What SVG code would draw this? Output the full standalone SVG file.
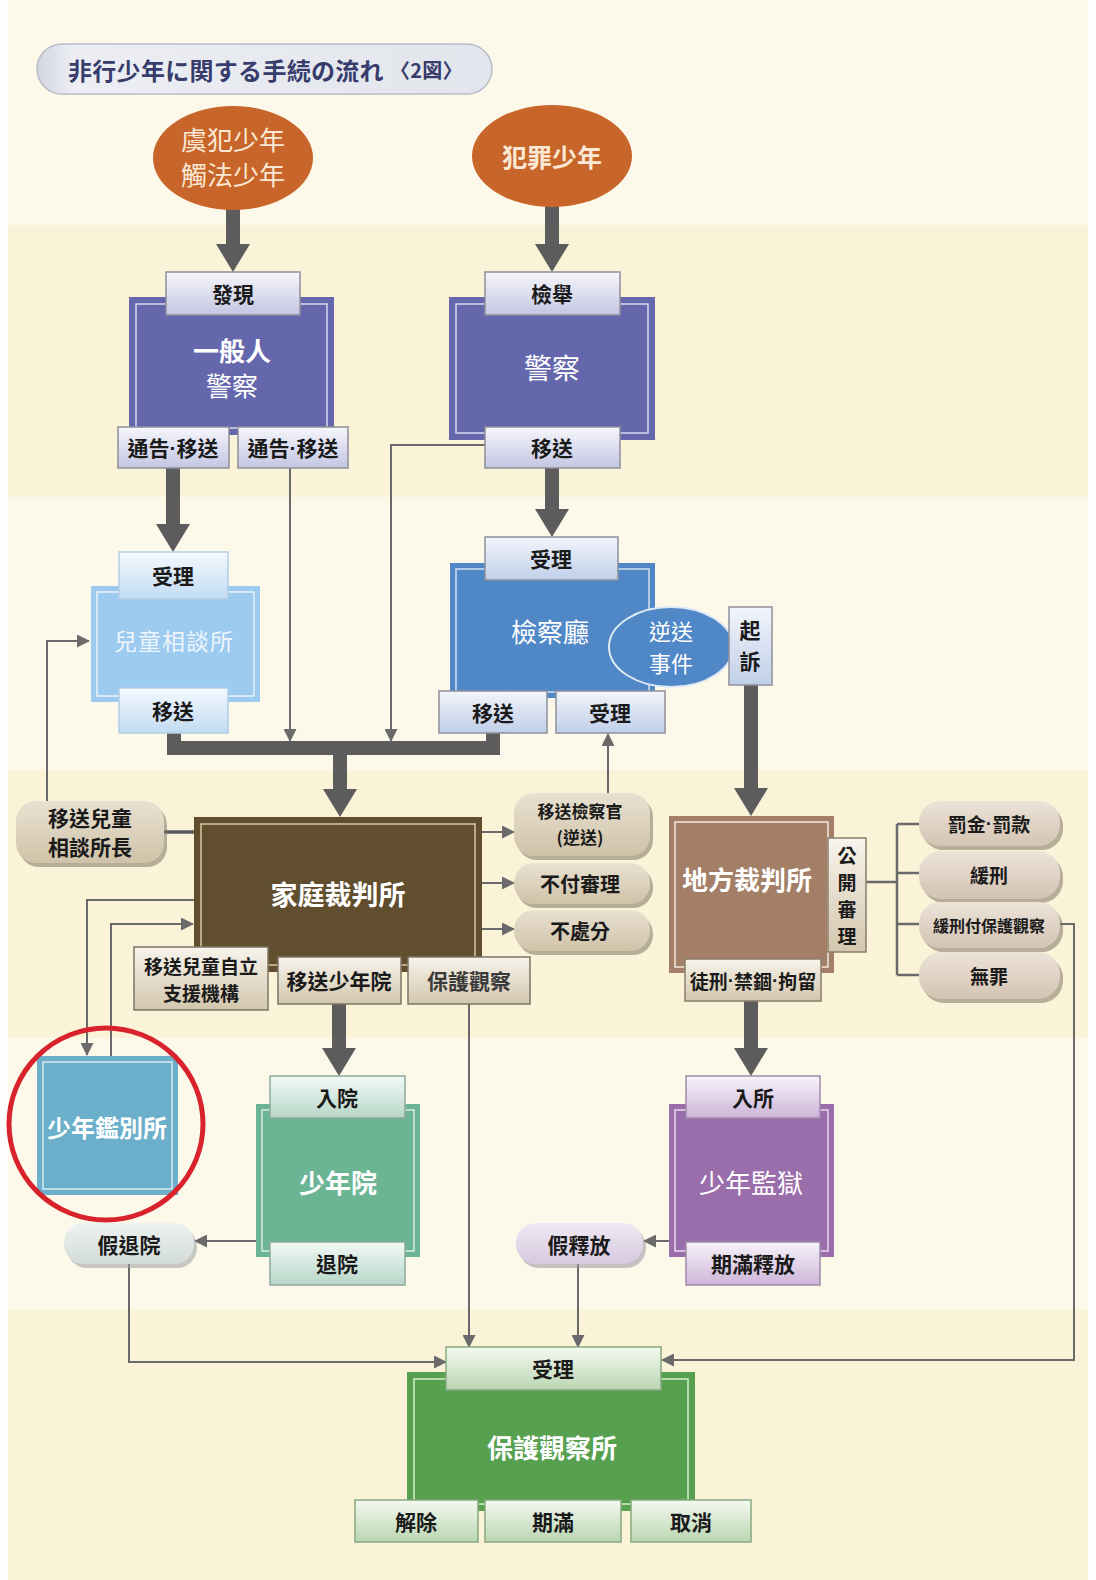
<svg xmlns="http://www.w3.org/2000/svg" width="1096" height="1580" viewBox="0 0 1096 1580">
<defs>
<style>
text{font-family:"Noto Sans CJK TC","Noto Sans CJK JP",sans-serif;text-anchor:middle;dominant-baseline:central}
.dot{font-family:"Liberation Sans",sans-serif}
.tab{stroke:#8f8f9a;stroke-width:1.5}
.tt{font-size:21px;font-weight:700;fill:#1a1a1a}
.bt{font-size:26px;font-weight:700;fill:#ffffff}
.bl{font-size:26px;font-weight:400;fill:#ffffff}
.inner{fill:none;stroke:#ffffff;stroke-opacity:.75;stroke-width:1.5}
.thick{fill:none;stroke:#5c5c5c;stroke-width:14}
.thin{fill:none;stroke:#6a6a6a;stroke-width:2}
.shadow{fill:#7d7466;opacity:.55}
</style>
<linearGradient id="gLav" x1="0" y1="0" x2="0" y2="1"><stop offset="0" stop-color="#f6f6fb"/><stop offset="1" stop-color="#c4c6e3"/></linearGradient>
<linearGradient id="gSky" x1="0" y1="0" x2="0" y2="1"><stop offset="0" stop-color="#f4f9fe"/><stop offset="1" stop-color="#c2dcf2"/></linearGradient>
<linearGradient id="gBlu" x1="0" y1="0" x2="0" y2="1"><stop offset="0" stop-color="#f2f5fb"/><stop offset="1" stop-color="#c0cfe9"/></linearGradient>
<linearGradient id="gTan" x1="0" y1="0" x2="0" y2="1"><stop offset="0" stop-color="#f8f4ec"/><stop offset="1" stop-color="#d2c6ad"/></linearGradient>
<linearGradient id="gTeal" x1="0" y1="0" x2="0" y2="1"><stop offset="0" stop-color="#f3f9f6"/><stop offset="1" stop-color="#b7d6c8"/></linearGradient>
<linearGradient id="gPur" x1="0" y1="0" x2="0" y2="1"><stop offset="0" stop-color="#f8f3fa"/><stop offset="1" stop-color="#cdb5d8"/></linearGradient>
<linearGradient id="gGrn" x1="0" y1="0" x2="0" y2="1"><stop offset="0" stop-color="#f4f9f1"/><stop offset="1" stop-color="#bad6b1"/></linearGradient>
<linearGradient id="gPill" x1="0" y1="0" x2="0" y2="1"><stop offset="0" stop-color="#e9e1d1"/><stop offset="1" stop-color="#cfc2a8"/></linearGradient>
<linearGradient id="gPink" x1="0" y1="0" x2="0" y2="1"><stop offset="0" stop-color="#ede3d9"/><stop offset="1" stop-color="#d3c3b2"/></linearGradient>
<linearGradient id="gMint" x1="0" y1="0" x2="0" y2="1"><stop offset="0" stop-color="#eef2f0"/><stop offset="1" stop-color="#d2dcd8"/></linearGradient>
<linearGradient id="gLil" x1="0" y1="0" x2="0" y2="1"><stop offset="0" stop-color="#efe9f3"/><stop offset="1" stop-color="#d6c9df"/></linearGradient>
<linearGradient id="gTitle" x1="0" y1="0" x2="1" y2="0"><stop offset="0" stop-color="#d4d6e0"/><stop offset=".08" stop-color="#eceef4"/><stop offset="1" stop-color="#e3e5ec"/></linearGradient>
<marker id="hThick" markerUnits="userSpaceOnUse" viewBox="0 0 28 34" markerWidth="28" markerHeight="34" refX="1" refY="17" orient="auto"><path d="M0,0 L28,17 L0,34 z" fill="#5c5c5c"/></marker>
<marker id="hThin" markerUnits="userSpaceOnUse" viewBox="0 0 13 13" markerWidth="13" markerHeight="13" refX="12" refY="6.5" orient="auto"><path d="M0,0 L13,6.5 L0,13 z" fill="#6a6a6a"/></marker>
</defs>

<!-- background bands -->
<rect x="0" y="0" width="1096" height="1580" fill="#fdf9ea"/>
<rect x="0" y="225" width="1096" height="272" fill="#fbf3d8"/>
<rect x="0" y="770" width="1096" height="268" fill="#fbf3d8"/>
<rect x="0" y="1310" width="1096" height="270" fill="#fbf3d8"/>
<rect x="0" y="0" width="8" height="1580" fill="#fefefe"/>
<rect x="1088" y="0" width="8" height="1580" fill="#fefefe"/>

<!-- title -->
<g id="title">
<rect x="37" y="44" width="455" height="50" rx="25" fill="url(#gTitle)" stroke="#b9bbc7" stroke-width="1.5"/>
<text x="68" y="69" style="text-anchor:start;font-size:24px;font-weight:700;fill:#363c6c;letter-spacing:0.3px">非行少年に関する手続の流れ<tspan font-size="20" dx="6">〈2図〉</tspan></text>
</g>

<!-- connectors -->
<g id="connectors">
<path class="thick" d="M233,208 V245" marker-end="url(#hThick)"/>
<path class="thick" d="M552,206 V245" marker-end="url(#hThick)"/>
<path class="thick" d="M173,468 V525" marker-end="url(#hThick)"/>
<path class="thick" d="M552,468 V510" marker-end="url(#hThick)"/>
<path class="thick" d="M174,733 V748 H493 V733"/>
<path class="thick" d="M340,748 V790" marker-end="url(#hThick)"/>
<path class="thick" d="M751,685 V789" marker-end="url(#hThick)"/>
<path class="thick" d="M339,1004 V1049" marker-end="url(#hThick)"/>
<path class="thick" d="M751,1001 V1049" marker-end="url(#hThick)"/>

<path class="thin" d="M290,468 V741" marker-end="url(#hThin)"/>
<path class="thin" d="M485,445 H391 V741" marker-end="url(#hThin)"/>
<path class="thin" d="M47,801 V641 H89" marker-end="url(#hThin)"/>
<path d="M164,832 H194" stroke="#5c5c5c" stroke-width="3.5" fill="none"/>
<path class="thin" d="M482,832 H514" marker-end="url(#hThin)"/>
<path class="thin" d="M482,883 H514" marker-end="url(#hThin)"/>
<path class="thin" d="M482,929 H514" marker-end="url(#hThin)"/>
<path class="thin" d="M608,793 V734" marker-end="url(#hThin)"/>
<path class="thin" d="M194,900 H87 V1055" marker-end="url(#hThin)"/>
<path class="thin" d="M111,1056 V924 H193" marker-end="url(#hThin)"/>
<path class="thin" d="M256,1241 H195" marker-end="url(#hThin)"/>
<path class="thin" d="M129,1264 V1362 H446" marker-end="url(#hThin)"/>
<path class="thin" d="M469,1004 V1347" marker-end="url(#hThin)"/>
<path class="thin" d="M669,1241 H644" marker-end="url(#hThin)"/>
<path class="thin" d="M578,1264 V1347" marker-end="url(#hThin)"/>
<path class="thin" d="M1060,924 H1074 V1360 H662" marker-end="url(#hThin)"/>
<path d="M866,882 H897 M897,824 V975 M897,824 H919 M897,873 H919 M897,924 H919 M897,975 H919" stroke="#6a6a6a" stroke-width="2.5" fill="none"/>
</g>

<!-- source ovals -->
<g id="n-guhan">
<ellipse cx="233" cy="158" rx="80" ry="52" fill="#c8652a"/>
<text x="233" y="138" style="font-size:26px;fill:#fbe8d4">虞犯少年</text>
<text x="233" y="173" style="font-size:26px;fill:#fbe8d4">觸法少年</text>
</g>
<g id="n-hanzai">
<ellipse cx="552" cy="156" rx="80" ry="51" fill="#c8652a"/>
<text x="552" y="156" style="font-size:25px;font-weight:700;fill:#fbe8d4">犯罪少年</text>
</g>

<!-- 一般人 警察 -->
<g id="n-ippan">
<rect x="129" y="297" width="205" height="138" fill="#6567ad"/>
<rect x="136" y="304" width="191" height="124" class="inner"/>
<text x="232" y="349" class="bt">一般人</text>
<text x="232" y="384" class="bl">警察</text>
<rect x="166" y="272" width="134" height="43" fill="url(#gLav)" class="tab"/>
<text x="233" y="293" class="tt">發現</text>
<rect x="118" y="427" width="111" height="41" fill="url(#gLav)" class="tab"/>
<text x="173" y="447" class="tt">通告<tspan class="dot">·</tspan>移送</text>
<rect x="238" y="427" width="110" height="41" fill="url(#gLav)" class="tab"/>
<text x="293" y="447" class="tt">通告<tspan class="dot">·</tspan>移送</text>
</g>

<!-- 警察 -->
<g id="n-keisatsu">
<rect x="449" y="297" width="206" height="143" fill="#6567ad"/>
<rect x="456" y="304" width="192" height="129" class="inner"/>
<text x="552" y="367" style="font-size:28px;fill:#fff">警察</text>
<rect x="485" y="272" width="135" height="43" fill="url(#gLav)" class="tab"/>
<text x="552" y="293" class="tt">檢舉</text>
<rect x="485" y="427" width="135" height="41" fill="url(#gLav)" class="tab"/>
<text x="552" y="447" class="tt">移送</text>
</g>

<!-- 兒童相談所 -->
<g id="n-jido">
<rect x="91" y="586" width="169" height="116" fill="#9dcaef"/>
<rect x="97" y="592" width="157" height="104" class="inner"/>
<text x="174" y="640" style="font-size:23px;fill:#eef6fd;letter-spacing:1px">兒童相談所</text>
<rect x="119" y="552" width="109" height="47" fill="url(#gSky)" stroke="#b3cde6" stroke-width="1.5"/>
<text x="173" y="575" class="tt">受理</text>
<rect x="119" y="688" width="109" height="45" fill="url(#gSky)" stroke="#b3cde6" stroke-width="1.5"/>
<text x="173" y="710" class="tt">移送</text>
</g>

<!-- 檢察廳 -->
<g id="n-kensatsu">
<rect x="450" y="563" width="205" height="135" fill="#4f87c7"/>
<rect x="456" y="569" width="193" height="123" class="inner"/>
<text x="550" y="630" style="font-size:26px;fill:#fff">檢察廳</text>
<rect x="485" y="537" width="133" height="43" fill="url(#gBlu)" class="tab"/>
<text x="551" y="558" class="tt">受理</text>
<ellipse cx="671" cy="647" rx="62" ry="40" fill="#4f87c7" stroke="#dfe9f6" stroke-width="2"/>
<text x="671" y="630" style="font-size:22px;fill:#fff">逆送</text>
<text x="671" y="662" style="font-size:22px;fill:#fff">事件</text>
<rect x="729" y="607" width="43" height="78" fill="url(#gBlu)" class="tab"/>
<text x="750" y="629" class="tt">起</text>
<text x="750" y="660" class="tt">訴</text>
<rect x="439" y="691" width="108" height="42" fill="url(#gBlu)" class="tab"/>
<text x="493" y="712" class="tt">移送</text>
<rect x="556" y="691" width="109" height="42" fill="url(#gBlu)" class="tab"/>
<text x="610" y="712" class="tt">受理</text>
</g>

<!-- 家庭裁判所 -->
<g id="n-katei">
<rect x="194" y="817" width="288" height="155" fill="#604e2f"/>
<rect x="201" y="824" width="274" height="141" fill="none" stroke="#d8c9a2" stroke-width="1.5"/>
<text x="338" y="893" class="bt" style="font-size:27px">家庭裁判所</text>
<rect x="134" y="947" width="134" height="63" fill="url(#gTan)" stroke="#7d7565" stroke-width="1.5"/>
<text x="201" y="965" style="font-size:19px;font-weight:700;fill:#1a1a1a">移送兒童自立</text>
<text x="201" y="992" style="font-size:19px;font-weight:700;fill:#1a1a1a">支援機構</text>
<rect x="278" y="957" width="123" height="47" fill="url(#gTan)" stroke="#7d7565" stroke-width="1.5"/>
<text x="339" y="980" class="tt">移送少年院</text>
<rect x="408" y="957" width="122" height="47" fill="url(#gTan)" stroke="#7d7565" stroke-width="1.5"/>
<text x="469" y="980" class="tt" style="fill:#3a3a3a">保護觀察</text>
</g>

<!-- pills around 家庭裁判所 -->
<g id="n-jidocho">
<rect x="19" y="805" width="148" height="62" rx="20" class="shadow"/>
<rect x="16" y="801" width="148" height="62" rx="20" fill="url(#gPill)"/>
<text x="90" y="817" style="font-size:21px;font-weight:700;fill:#1a1a1a">移送兒童</text>
<text x="90" y="846" style="font-size:21px;font-weight:700;fill:#1a1a1a">相談所長</text>
</g>
<g id="n-soken">
<rect x="517" y="797" width="136" height="63" rx="20" class="shadow"/>
<rect x="514" y="793" width="136" height="63" rx="20" fill="url(#gPill)"/>
<text x="580" y="810" style="font-size:17px;font-weight:700;fill:#1a1a1a">移送檢察官</text>
<text x="580" y="836" style="font-size:17px;font-weight:700;fill:#1a1a1a">(逆送)</text>
</g>
<g id="n-fufu">
<rect x="517" y="867" width="136" height="41" rx="20" class="shadow"/>
<rect x="514" y="863" width="136" height="41" rx="20" fill="url(#gPill)"/>
<text x="580" y="883" style="font-size:20px;font-weight:700;fill:#1a1a1a">不付審理</text>
</g>
<g id="n-fushobun">
<rect x="517" y="914" width="136" height="41" rx="20" class="shadow"/>
<rect x="514" y="910" width="136" height="41" rx="20" fill="url(#gPill)"/>
<text x="580" y="930" style="font-size:20px;font-weight:700;fill:#1a1a1a">不處分</text>
</g>

<!-- 地方裁判所 -->
<g id="n-chiho">
<rect x="669" y="816" width="165" height="157" fill="#a37f67"/>
<rect x="675" y="822" width="153" height="145" fill="none" stroke="#f3e8df" stroke-width="1.5"/>
<text x="747" y="878" class="bt" style="font-size:26px">地方裁判所</text>
<rect x="828" y="838" width="38" height="114" fill="url(#gTan)" stroke="#8a7e6c" stroke-width="1.5"/>
<text x="847" y="854" style="font-size:19px;font-weight:700;fill:#1a1a1a">公</text>
<text x="847" y="881" style="font-size:19px;font-weight:700;fill:#1a1a1a">開</text>
<text x="847" y="908" style="font-size:19px;font-weight:700;fill:#1a1a1a">審</text>
<text x="847" y="935" style="font-size:19px;font-weight:700;fill:#1a1a1a">理</text>
<rect x="685" y="959" width="136" height="42" fill="url(#gTan)" stroke="#8a7e6c" stroke-width="1.5"/>
<text x="753" y="980" style="font-size:19px;font-weight:700;fill:#1a1a1a">徒刑<tspan class="dot">·</tspan>禁錮<tspan class="dot">·</tspan>拘留</text>
</g>

<g id="n-bakkin">
<rect x="922" y="805" width="141" height="45" rx="21" class="shadow"/>
<rect x="919" y="801" width="141" height="45" rx="21" fill="url(#gPink)"/>
<text x="989" y="823" style="font-size:19px;font-weight:700;fill:#1a1a1a">罰金<tspan class="dot">·</tspan>罰款</text>
</g>
<g id="n-keikei">
<rect x="922" y="855" width="141" height="48" rx="22" class="shadow"/>
<rect x="919" y="851" width="141" height="48" rx="22" fill="url(#gPink)"/>
<text x="989" y="874" style="font-size:19px;font-weight:700;fill:#1a1a1a">緩刑</text>
</g>
<g id="n-keikeihogo">
<rect x="922" y="906" width="141" height="46" rx="21" class="shadow"/>
<rect x="919" y="902" width="141" height="46" rx="21" fill="url(#gPink)"/>
<text x="989" y="925" style="font-size:16px;font-weight:700;fill:#1a1a1a">緩刑付保護觀察</text>
</g>
<g id="n-muzai">
<rect x="922" y="956" width="141" height="47" rx="22" class="shadow"/>
<rect x="919" y="952" width="141" height="47" rx="22" fill="url(#gPink)"/>
<text x="989" y="975" style="font-size:19px;font-weight:700;fill:#1a1a1a">無罪</text>
</g>

<!-- 少年鑑別所 -->
<g id="n-kanbetsu">
<rect x="37" y="1056" width="141" height="139" fill="#6cafcb"/>
<rect x="43" y="1062" width="129" height="127" class="inner"/>
<text x="107" y="1126" class="bt" style="font-size:24px">少年鑑別所</text>
<ellipse cx="106" cy="1124" rx="97" ry="96" fill="none" stroke="#d8232c" stroke-width="5"/>
</g>

<!-- 少年院 -->
<g id="n-shonenin">
<rect x="256" y="1104" width="164" height="153" fill="#6bb595"/>
<rect x="262" y="1110" width="152" height="141" class="inner"/>
<text x="338" y="1181" class="bt">少年院</text>
<rect x="270" y="1076" width="135" height="42" fill="url(#gTeal)" stroke="#8fa99c" stroke-width="1.5"/>
<text x="337" y="1097" class="tt">入院</text>
<rect x="270" y="1242" width="135" height="43" fill="url(#gTeal)" stroke="#8fa99c" stroke-width="1.5"/>
<text x="337" y="1263" class="tt">退院</text>
</g>
<g id="n-karitaiin">
<rect x="67" y="1227" width="130" height="41" rx="20" fill="#9aa19f" opacity=".55"/>
<rect x="64" y="1223" width="130" height="41" rx="20" fill="url(#gMint)"/>
<text x="129" y="1244" style="font-size:21px;font-weight:700;fill:#1a1a1a">假退院</text>
</g>

<!-- 少年監獄 -->
<g id="n-kangoku">
<rect x="669" y="1104" width="165" height="153" fill="#9a6eab"/>
<rect x="675" y="1110" width="153" height="141" class="inner"/>
<text x="751" y="1181" class="bl">少年監獄</text>
<rect x="686" y="1076" width="134" height="42" fill="url(#gPur)" stroke="#9f8aa9" stroke-width="1.5"/>
<text x="753" y="1097" class="tt">入所</text>
<rect x="686" y="1242" width="134" height="43" fill="url(#gPur)" stroke="#9f8aa9" stroke-width="1.5"/>
<text x="753" y="1263" class="tt">期滿釋放</text>
</g>
<g id="n-karishakuho">
<rect x="519" y="1227" width="127" height="41" rx="20" fill="#9b94a3" opacity=".55"/>
<rect x="516" y="1223" width="127" height="41" rx="20" fill="url(#gLil)"/>
<text x="579" y="1244" style="font-size:21px;font-weight:700;fill:#1a1a1a">假釋放</text>
</g>

<!-- 保護觀察所 -->
<g id="n-hogo">
<rect x="407" y="1372" width="288" height="139" fill="#56a04f"/>
<rect x="414" y="1379" width="274" height="125" fill="none" stroke="#d6efd0" stroke-width="1.5"/>
<text x="552" y="1446" class="bt">保護觀察所</text>
<rect x="446" y="1347" width="215" height="43" fill="url(#gGrn)" stroke="#86a97d" stroke-width="1.5"/>
<text x="553" y="1368" class="tt">受理</text>
<rect x="355" y="1500" width="123" height="42" fill="url(#gGrn)" stroke="#86a97d" stroke-width="1.5"/>
<text x="416" y="1521" class="tt">解除</text>
<rect x="485" y="1500" width="136" height="42" fill="url(#gGrn)" stroke="#86a97d" stroke-width="1.5"/>
<text x="553" y="1521" class="tt">期滿</text>
<rect x="631" y="1500" width="120" height="42" fill="url(#gGrn)" stroke="#86a97d" stroke-width="1.5"/>
<text x="691" y="1521" class="tt">取消</text>
</g>
</svg>
